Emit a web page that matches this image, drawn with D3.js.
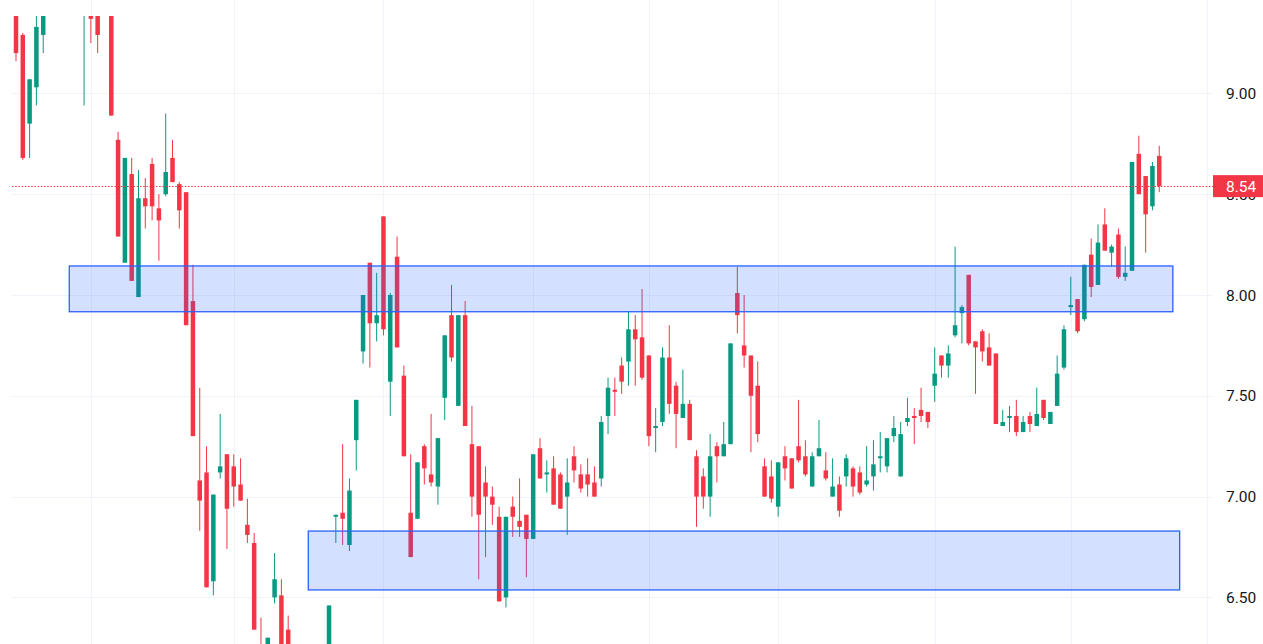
<!DOCTYPE html>
<html><head><meta charset="utf-8">
<script src="https://cdn.jsdelivr.net/npm/d3@7"></script>
<style>html,body{margin:0;padding:0;background:#fff;overflow:hidden}</style>
</head><body>
<svg id="chart" width="1263" height="644"></svg>
<script>
// ---- data (daily candles, index = trading day) ----
const opens = [9.60,9.29,8.85,9.03,9.29,9.45,9.58,9.55,9.62,9.57,
9.40,9.45,9.50,9.42,9.56,8.77,8.16,8.60,7.99,8.48,
8.65,8.43,8.50,8.68,8.55,8.51,7.97,7.08,7.12,6.58,
7.12,7.21,7.15,7.06,6.86,6.77,6.24,6.10,6.50,6.51,
6.34,6.15,6.08,6.12,6.20,6.10,6.18,6.90,6.92,6.76,
7.28,7.72,8.16,7.86,8.39,7.57,8.19,7.60,6.92,6.89,
7.25,7.11,7.05,7.49,7.90,7.45,7.90,7.26,7.25,7.07,
7.00,6.90,6.50,6.95,6.88,6.91,6.79,7.24,7.11,7.14,
7.11,7.00,7.20,7.11,7.11,7.07,7.09,7.40,7.53,7.65,
7.67,7.83,7.79,7.70,7.34,7.37,7.69,7.55,7.39,7.46,
7.20,7.10,7.00,7.25,7.20,7.26,8.01,7.75,7.70,7.55,
7.15,7.10,6.95,7.20,7.19,7.25,7.20,7.05,7.20,7.13,
7.00,7.06,7.10,7.14,7.12,7.06,7.10,7.19,7.15,7.30,
7.10,7.37,7.40,7.43,7.42,7.55,7.70,7.65,7.80,7.91,
8.10,7.77,7.82,7.74,7.71,7.35,7.39,7.40,7.32,7.40,
7.35,7.48,7.36,7.45,7.64,7.94,7.98,7.88,8.20,8.05,
8.35,8.21,8.30,8.09,8.12,8.70,8.59,8.44,8.69];
const highs = [9.65,9.30,9.07,9.42,9.50,9.62,9.70,9.66,9.75,9.64,
9.58,9.50,9.55,9.62,9.60,8.81,8.68,8.68,8.62,8.58,
8.68,8.50,8.90,8.77,8.56,8.51,8.15,7.54,7.25,7.01,
7.41,7.21,7.21,7.19,6.99,6.82,6.40,6.30,6.72,6.59,
6.41,6.22,6.18,6.24,6.25,6.20,6.46,6.91,7.26,7.09,
7.48,8.00,8.16,8.11,8.39,8.01,8.29,7.65,7.21,7.17,
7.26,7.41,7.29,7.80,8.05,7.90,7.97,7.45,7.25,7.15,
7.05,6.95,6.90,7.00,7.09,6.91,7.21,7.29,7.18,7.20,
7.12,7.19,7.25,7.16,7.19,7.15,7.40,7.59,7.59,7.69,
7.92,7.90,8.03,7.70,7.44,7.74,7.85,7.57,7.63,7.48,
7.23,7.14,7.31,7.27,7.37,7.76,8.14,8.00,7.70,7.67,
7.19,7.18,7.17,7.25,7.19,7.48,7.28,7.22,7.38,7.22,
7.19,7.10,7.21,7.15,7.15,7.25,7.28,7.32,7.29,7.40,
7.37,7.49,7.44,7.54,7.42,7.74,7.70,7.75,8.24,7.95,
8.10,7.77,7.83,7.81,7.71,7.43,7.45,7.48,7.40,7.42,
7.54,7.48,7.42,7.70,7.85,8.09,7.98,8.15,8.28,8.35,
8.43,8.25,8.33,8.24,8.66,8.79,8.59,8.66,8.74];
const lows = [9.16,8.67,8.68,8.94,9.20,9.41,9.50,9.45,9.52,9.43,
8.94,9.25,9.20,9.40,8.89,8.29,8.16,8.07,7.99,8.33,
8.37,8.17,8.49,8.56,8.33,7.85,7.30,6.83,6.55,6.51,
7.09,6.74,6.95,6.98,6.77,6.34,6.12,6.05,6.47,6.18,
6.10,6.02,5.98,6.05,6.08,6.02,6.15,6.77,6.76,6.73,
7.13,7.66,7.64,7.77,7.80,7.40,7.74,7.20,6.70,6.89,
7.06,7.05,6.96,7.38,7.67,7.45,7.35,6.90,6.59,6.70,
6.86,6.48,6.45,6.80,6.80,6.60,6.79,7.09,7.02,6.96,
6.94,6.81,7.07,7.02,7.00,7.00,7.05,7.31,7.40,7.51,
7.55,7.55,7.58,7.25,7.22,7.35,7.41,7.24,7.39,7.28,
6.85,6.94,6.90,7.07,7.20,7.26,7.81,7.64,7.22,7.27,
7.00,6.97,6.90,7.08,7.04,7.17,7.10,7.05,7.20,7.08,
7.00,6.90,7.05,7.00,7.01,7.05,7.03,7.12,7.12,7.27,
7.10,7.35,7.26,7.37,7.34,7.47,7.59,7.59,7.79,7.76,
7.75,7.51,7.67,7.65,7.36,7.35,7.32,7.30,7.32,7.32,
7.35,7.38,7.36,7.45,7.63,7.90,7.81,7.87,7.99,8.05,
8.22,8.14,8.08,8.07,8.12,8.50,8.21,8.42,8.51];
const closes = [9.20,8.68,9.07,9.33,9.45,9.58,9.55,9.62,9.57,9.48,
9.52,9.37,9.29,9.56,8.89,8.29,8.68,8.07,8.48,8.44,
8.44,8.37,8.61,8.56,8.42,7.85,7.30,6.98,6.55,7.01,
7.15,6.94,7.05,6.98,6.81,6.34,6.15,6.30,6.59,6.20,
6.15,6.08,6.12,6.20,6.10,6.18,6.46,6.91,6.89,7.03,
7.48,8.00,7.86,7.90,7.83,8.00,7.74,7.20,6.70,7.17,
7.14,7.07,7.29,7.80,7.69,7.90,7.35,7.00,6.91,7.00,
6.96,6.48,6.90,6.90,6.85,6.79,7.21,7.09,7.12,6.96,
6.94,7.07,7.13,7.04,7.06,7.00,7.37,7.54,7.52,7.57,
7.83,7.78,7.59,7.30,7.35,7.69,7.46,7.41,7.46,7.28,
7.00,7.00,7.20,7.20,7.26,7.76,7.90,7.70,7.50,7.31,
7.00,6.99,7.17,7.14,7.04,7.18,7.11,7.20,7.24,7.09,
7.05,6.93,7.19,7.05,7.02,7.08,7.16,7.20,7.29,7.34,
7.31,7.39,7.39,7.40,7.37,7.61,7.65,7.71,7.85,7.94,
7.76,7.74,7.72,7.65,7.36,7.37,7.40,7.32,7.37,7.36,
7.41,7.39,7.42,7.61,7.83,7.95,7.82,8.15,8.04,8.26,
8.22,8.24,8.09,8.11,8.66,8.50,8.40,8.64,8.54];
const priceTicks = [6.5, 7.0, 7.5, 8.0, 8.5, 9.0];
const monthStartIdx = [11, 32, 54, 76, 93, 112, 135, 155, 175];
const lastPrice = 8.54;
// support / resistance zones: time-index span and price span
const zoneStart = [7.83, 42.95];
const zoneEnd = [170.0, 171.0];
const zoneTop = [8.144, 6.829];
const zoneBottom = [7.917, 6.537];

// ---- layout ----
const W = 1263, H = 644, plotLeft = 11, plotRight = 1213, clipTop = 16;
const UP = '#089981', DOWN = '#F23645';
const svg = d3.select('#chart');
svg.append('rect').attr('width', W).attr('height', H).attr('fill', '#fff');

const x = d3.scaleLinear().domain([0, 175]).range([16, 16 + 175 * 6.805]);
const y = d3.scaleLinear().domain([6.5, 9.0]).range([597.4, 93.4]);

svg.append('defs').append('clipPath').attr('id', 'plotclip')
  .append('rect').attr('x', plotLeft).attr('y', clipTop).attr('width', plotRight - plotLeft).attr('height', H - clipTop);

// grid
const grid = svg.append('g');
grid.selectAll('line.h').data(priceTicks).join('line')
  .attr('x1', plotLeft).attr('x2', plotRight)
  .attr('y1', d => Math.round(y(d)) + 0.5).attr('y2', d => Math.round(y(d)) + 0.5)
  .attr('stroke', '#f0f3fa').attr('stroke-width', 1);
grid.selectAll('line.v').data(monthStartIdx).join('line')
  .attr('y1', 0).attr('y2', H)
  .attr('x1', d => Math.round(x(d)) + 0.5).attr('x2', d => Math.round(x(d)) + 0.5)
  .attr('stroke', '#f0f3fa').attr('stroke-width', 1);

// candles
const candles = opens.map((o, i) => ({ i, o, h: highs[i], l: lows[i], c: closes[i] }));
const cg = svg.append('g').attr('clip-path', 'url(#plotclip)');
cg.selectAll('line.wick').data(candles).join('line')
  .attr('x1', d => x(d.i)).attr('x2', d => x(d.i))
  .attr('y1', d => y(d.h)).attr('y2', d => y(d.l))
  .attr('stroke', d => d.c >= d.o ? UP : DOWN).attr('stroke-width', 1);
const bw = 4.5;
cg.selectAll('rect.body').data(candles).join('rect')
  .attr('x', d => x(d.i) - bw / 2).attr('width', bw)
  .attr('y', d => y(Math.max(d.o, d.c)))
  .attr('height', d => Math.max(1.2, Math.abs(y(d.o) - y(d.c))))
  .attr('fill', d => d.c >= d.o ? UP : DOWN);

// zones
const zones = zoneStart.map((s, k) => ({ s, e: zoneEnd[k], t: zoneTop[k], b: zoneBottom[k] }));
svg.append('g').attr('clip-path', 'url(#plotclip)').selectAll('rect').data(zones).join('rect')
  .attr('x', d => x(d.s)).attr('width', d => x(d.e) - x(d.s))
  .attr('y', d => y(d.t)).attr('height', d => y(d.b) - y(d.t))
  .attr('fill', 'rgba(41,98,255,0.2)').attr('stroke', '#2962FF').attr('stroke-width', 1.3);

// last price line
svg.append('line').attr('x1', plotLeft + 1).attr('x2', plotRight)
  .attr('y1', Math.round(y(lastPrice)) + 0.5).attr('y2', Math.round(y(lastPrice)) + 0.5)
  .attr('stroke', DOWN).attr('stroke-width', 1).attr('stroke-dasharray', '1.5,1.7');

// price axis
const fmt = d3.format('.2f');
svg.append('g').selectAll('text').data(priceTicks).join('text')
  .attr('x', 1226).attr('y', d => y(d)).attr('dy', '0.36em')
  .attr('font-family', 'Roboto, "Noto Sans", sans-serif').attr('font-size', 15.5)
  .attr('fill', '#131722').text(d => fmt(d));

const lbl = svg.append('g');
lbl.append('rect').attr('x', plotRight).attr('y', y(lastPrice) - 11)
  .attr('width', W - plotRight).attr('height', 22).attr('fill', DOWN);
lbl.append('text').attr('x', 1226).attr('y', y(lastPrice)).attr('dy', '0.36em')
  .attr('font-family', 'Roboto, "Noto Sans", sans-serif').attr('font-size', 15.5)
  .attr('fill', '#fff').text(fmt(lastPrice));
</script>
</body></html>
